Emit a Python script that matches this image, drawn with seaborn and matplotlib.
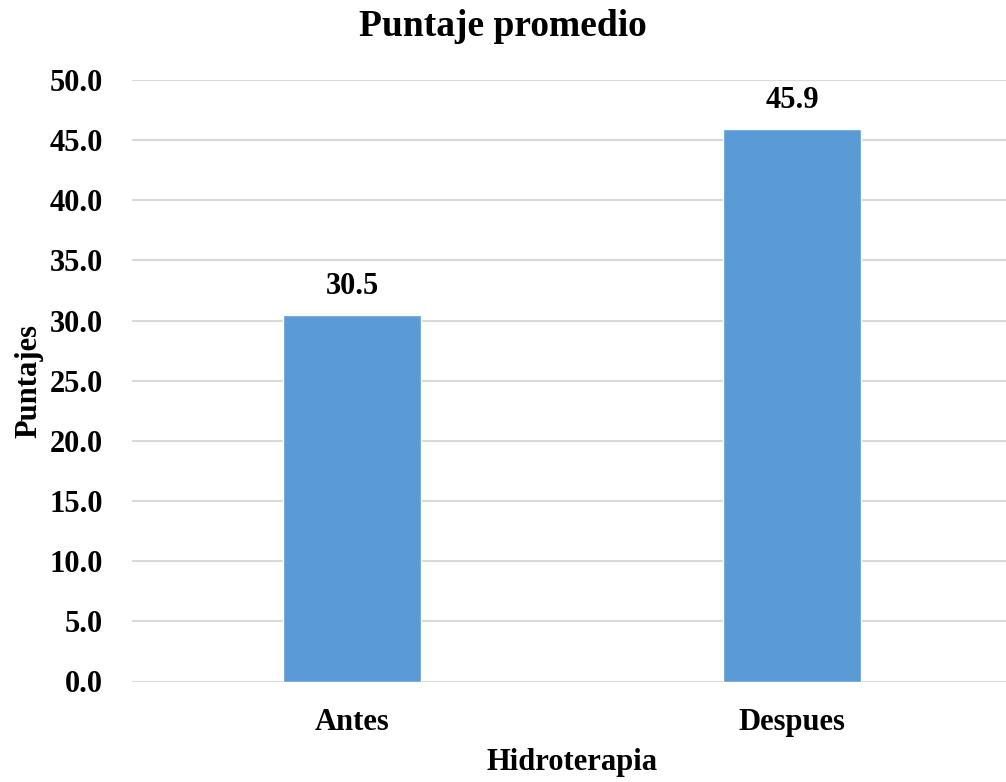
import matplotlib
matplotlib.use("Agg")
import matplotlib.pyplot as plt
import seaborn as sns
import pandas as pd

categories = ["Antes", "Despues"]
values = [30.5, 45.9]
yticks = [0, 5, 10, 15, 20, 25, 30, 35, 40, 45, 50]

sns.set_theme(style="white")
plt.rcParams['font.family'] = ['Liberation Serif', 'DejaVu Serif']
plt.rcParams['font.weight'] = 'bold'
plt.rcParams['text.color'] = 'black'
plt.rcParams['xtick.color'] = 'black'
plt.rcParams['ytick.color'] = 'black'
plt.rcParams['axes.labelcolor'] = 'black'

df = pd.DataFrame({"cat": categories, "val": values})

W, H = 1006, 782
fig = plt.figure(figsize=(W / 100, H / 100), dpi=100)
ax = fig.add_axes([132 / W, 100.5 / H, 880 / W, 601.5 / H])

sns.barplot(data=df, x="cat", y="val", color="#5b9bd5", width=0.3125,
            saturation=1, ax=ax, zorder=3)

ax.set_ylim(0, 50)
ax.set_xlim(-0.5, 1.5)
ax.set_yticks(yticks)
ax.set_yticklabels([f"{v:.1f}" for v in yticks])
ax.yaxis.grid(True, color="#d9d9d9", linewidth=1.5, zorder=0)
ax.xaxis.grid(False)
for s in ax.spines.values():
    s.set_visible(False)
ax.tick_params(axis="y", length=0, pad=21, labelsize=22, labelcolor="black")
ax.tick_params(axis="x", length=0, pad=19, labelsize=22, labelcolor="black")
for lab in ax.get_xticklabels() + ax.get_yticklabels():
    lab.set_fontweight("bold")

ax.set_xlabel("Hidroterapia", fontsize=22, fontweight="bold", labelpad=8, color="black")
ax.set_ylabel("Puntajes", fontsize=22, fontweight="bold", labelpad=4, color="black")

for p, v in zip(ax.patches, values):
    ax.annotate(f"{v:.1f}", (p.get_x() + p.get_width() / 2, p.get_height()),
                xytext=(0, 10), textcoords="offset points", ha="center", va="bottom",
                fontsize=22, fontweight="bold", color="black")

fig.text(0.5, 1 - 27 / H, "Puntaje promedio", ha="center", va="center",
         fontsize=27, fontweight="bold", color="black")

fig.savefig("out.png", dpi=100)
